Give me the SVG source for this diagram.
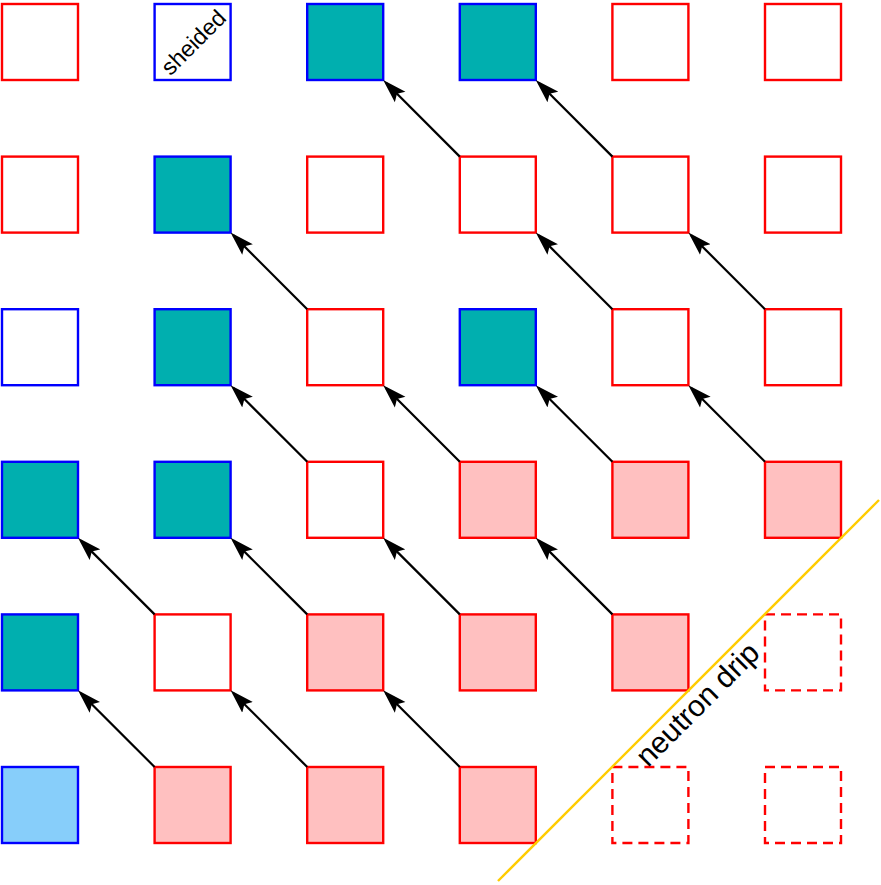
<svg xmlns="http://www.w3.org/2000/svg" width="881" height="885" viewBox="0 0 881 885">
<defs>
<style>
.sq{stroke-width:2.4}
.r{fill:#ffffff;stroke:#ff0000}
.b{fill:#ffffff;stroke:#0000ff}
.t{fill:#00afaf;stroke:#0000ff}
.p{fill:#ffc0c0;stroke:#ff0000}
.lb{fill:#87cefa;stroke:#0000ff}
.d{fill:none;stroke:#ff0000;stroke-dasharray:10 6}
.a{stroke:#000000;stroke-width:2.2;fill:none;marker-end:url(#ah)}
.lbl{font-family:"Liberation Sans",Arial,sans-serif;fill:#000000}
</style>
<marker id="ah" markerUnits="userSpaceOnUse" markerWidth="24" markerHeight="16" viewBox="0 0 24 16" refX="20" refY="8" orient="auto">
<path d="M24,8 L0,0.5 L4.5,8 L0,15.5 Z" fill="#000000"/>
</marker>
</defs>
<rect width="881" height="885" fill="#ffffff"/>
<g id="row0">
<g id="n00"><rect class="sq r" x="2" y="4" width="76" height="76"/></g>
<g id="n01"><rect class="sq b" x="154.6" y="4" width="76" height="76"/><text class="lbl" font-size="23" text-anchor="middle" transform="translate(199,48) rotate(-45)">sheided</text></g>
<g id="n02"><rect class="sq t" x="307.2" y="4" width="76" height="76"/></g>
<g id="n03"><rect class="sq t" x="459.8" y="4" width="76" height="76"/></g>
<g id="n04"><rect class="sq r" x="612.4" y="4" width="76" height="76"/></g>
<g id="n05"><rect class="sq r" x="765" y="4" width="76" height="76"/></g>
</g>
<g id="row1">
<g id="n10"><rect class="sq r" x="2" y="156.6" width="76" height="76"/></g>
<g id="n11"><rect class="sq t" x="154.6" y="156.6" width="76" height="76"/></g>
<g id="n12"><rect class="sq r" x="307.2" y="156.6" width="76" height="76"/></g>
<g id="n13"><rect class="sq r" x="459.8" y="156.6" width="76" height="76"/></g>
<g id="n14"><rect class="sq r" x="612.4" y="156.6" width="76" height="76"/></g>
<g id="n15"><rect class="sq r" x="765" y="156.6" width="76" height="76"/></g>
</g>
<g id="row2">
<g id="n20"><rect class="sq b" x="2" y="309.2" width="76" height="76"/></g>
<g id="n21"><rect class="sq t" x="154.6" y="309.2" width="76" height="76"/></g>
<g id="n22"><rect class="sq r" x="307.2" y="309.2" width="76" height="76"/></g>
<g id="n23"><rect class="sq t" x="459.8" y="309.2" width="76" height="76"/></g>
<g id="n24"><rect class="sq r" x="612.4" y="309.2" width="76" height="76"/></g>
<g id="n25"><rect class="sq r" x="765" y="309.2" width="76" height="76"/></g>
</g>
<g id="row3">
<g id="n30"><rect class="sq t" x="2" y="461.8" width="76" height="76"/></g>
<g id="n31"><rect class="sq t" x="154.6" y="461.8" width="76" height="76"/></g>
<g id="n32"><rect class="sq r" x="307.2" y="461.8" width="76" height="76"/></g>
<g id="n33"><rect class="sq p" x="459.8" y="461.8" width="76" height="76"/></g>
<g id="n34"><rect class="sq p" x="612.4" y="461.8" width="76" height="76"/></g>
<g id="n35"><rect class="sq p" x="765" y="461.8" width="76" height="76"/></g>
</g>
<g id="row4">
<g id="n40"><rect class="sq t" x="2" y="614.4" width="76" height="76"/></g>
<g id="n41"><rect class="sq r" x="154.6" y="614.4" width="76" height="76"/></g>
<g id="n42"><rect class="sq p" x="307.2" y="614.4" width="76" height="76"/></g>
<g id="n43"><rect class="sq p" x="459.8" y="614.4" width="76" height="76"/></g>
<g id="n44"><rect class="sq p" x="612.4" y="614.4" width="76" height="76"/></g>
<g id="n45"><rect class="sq d" x="765" y="614.4" width="76" height="76"/></g>
</g>
<g id="row5">
<g id="n50"><rect class="sq lb" x="2" y="767" width="76" height="76"/></g>
<g id="n51"><rect class="sq p" x="154.6" y="767" width="76" height="76"/></g>
<g id="n52"><rect class="sq p" x="307.2" y="767" width="76" height="76"/></g>
<g id="n53"><rect class="sq p" x="459.8" y="767" width="76" height="76"/></g>
<g id="n54"><rect class="sq d" x="612.4" y="767" width="76" height="76"/></g>
<g id="n55"><rect class="sq d" x="765" y="767" width="76" height="76"/></g>
</g>
<g id="connectors">
<line class="a" x1="459.8" y1="156.6" x2="386" y2="82.8"/>
<line class="a" x1="612.4" y1="156.6" x2="538.6" y2="82.8"/>
<line class="a" x1="307.2" y1="309.2" x2="233.4" y2="235.4"/>
<line class="a" x1="612.4" y1="309.2" x2="538.6" y2="235.4"/>
<line class="a" x1="765" y1="309.2" x2="691.2" y2="235.4"/>
<line class="a" x1="307.2" y1="461.8" x2="233.4" y2="388"/>
<line class="a" x1="459.8" y1="461.8" x2="386" y2="388"/>
<line class="a" x1="612.4" y1="461.8" x2="538.6" y2="388"/>
<line class="a" x1="765" y1="461.8" x2="691.2" y2="388"/>
<line class="a" x1="154.6" y1="614.4" x2="80.8" y2="540.6"/>
<line class="a" x1="307.2" y1="614.4" x2="233.4" y2="540.6"/>
<line class="a" x1="459.8" y1="614.4" x2="386" y2="540.6"/>
<line class="a" x1="612.4" y1="614.4" x2="538.6" y2="540.6"/>
<line class="a" x1="154.6" y1="767" x2="80.8" y2="693.2"/>
<line class="a" x1="307.2" y1="767" x2="233.4" y2="693.2"/>
<line class="a" x1="459.8" y1="767" x2="386" y2="693.2"/>
</g>
<g id="neutron-drip">
<line x1="498" y1="881" x2="879" y2="500" stroke="#ffcc00" stroke-width="2.4"/>
<text class="lbl" font-size="30" text-anchor="middle" transform="translate(704.6,711.4) rotate(-45)">neutron drip</text>
</g>
</svg>
